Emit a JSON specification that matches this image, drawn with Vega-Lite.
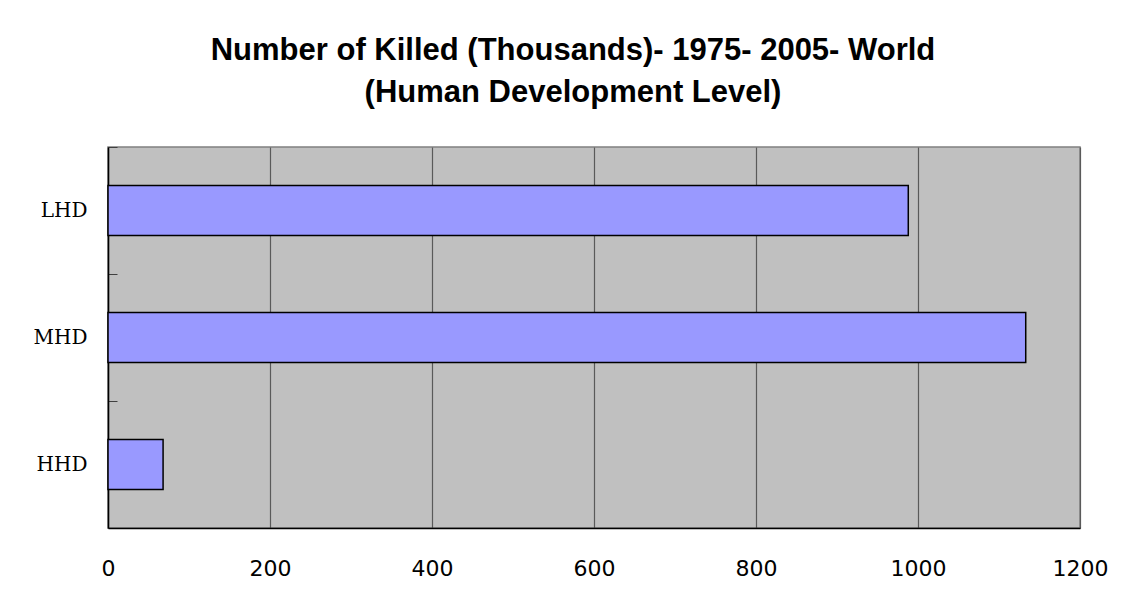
{
  "$schema": "https://vega.github.io/schema/vega-lite/v6.json",
  "autosize": "none",
  "width": 972,
  "height": 381,
  "padding": {"left": 108, "top": 147, "right": 41, "bottom": 76},
  "background": "white",
  "title": {
    "text": ["Number of Killed (Thousands)- 1975- 2005- World", "(Human Development Level)"],
    "font": "Liberation Sans",
    "fontSize": 31,
    "fontWeight": "bold",
    "color": "black",
    "anchor": "middle",
    "frame": "group",
    "baseline": "alphabetic",
    "dx": -21,
    "lineHeight": 42,
    "offset": 14
  },
  "config": {
    "view": {"fill": "#C0C0C0", "stroke": "#808080", "strokeWidth": 1.5}
  },
  "data": {
    "values": [
      {"level": "LHD", "killed": 988},
      {"level": "MHD", "killed": 1133},
      {"level": "HHD", "killed": 68}
    ]
  },
  "mark": {"type": "bar", "color": "#9999FF", "stroke": "black", "strokeWidth": 1.5},
  "encoding": {
    "y": {
      "field": "level",
      "type": "nominal",
      "sort": ["LHD", "MHD", "HHD"],
      "scale": {"paddingInner": 0.605, "paddingOuter": 0.3025},
      "axis": {
        "title": null,
        "domainColor": "black",
        "domainWidth": 1.5,
        "grid": false,
        "ticks": true,
        "tickSize": -9,
        "tickColor": "#404040",
        "tickWidth": 1,
        "tickOffset": -63.5,
        "labelOffset": 63.5,
        "labelPadding": 30,
        "labelFont": "DejaVu Serif",
        "labelFontSize": 20,
        "labelColor": "black"
      }
    },
    "x": {
      "field": "killed",
      "type": "quantitative",
      "scale": {"domain": [0, 1200], "nice": false},
      "axis": {
        "title": null,
        "values": [0, 200, 400, 600, 800, 1000, 1200],
        "format": "d",
        "domainColor": "black",
        "domainWidth": 1.5,
        "grid": true,
        "gridColor": "#5a5a5a",
        "gridWidth": 1.2,
        "gridOpacity": 1,
        "ticks": false,
        "labelPadding": 30,
        "labelFont": "DejaVu Sans",
        "labelFontSize": 22,
        "labelColor": "black",
        "labelFlush": false
      }
    }
  }
}
